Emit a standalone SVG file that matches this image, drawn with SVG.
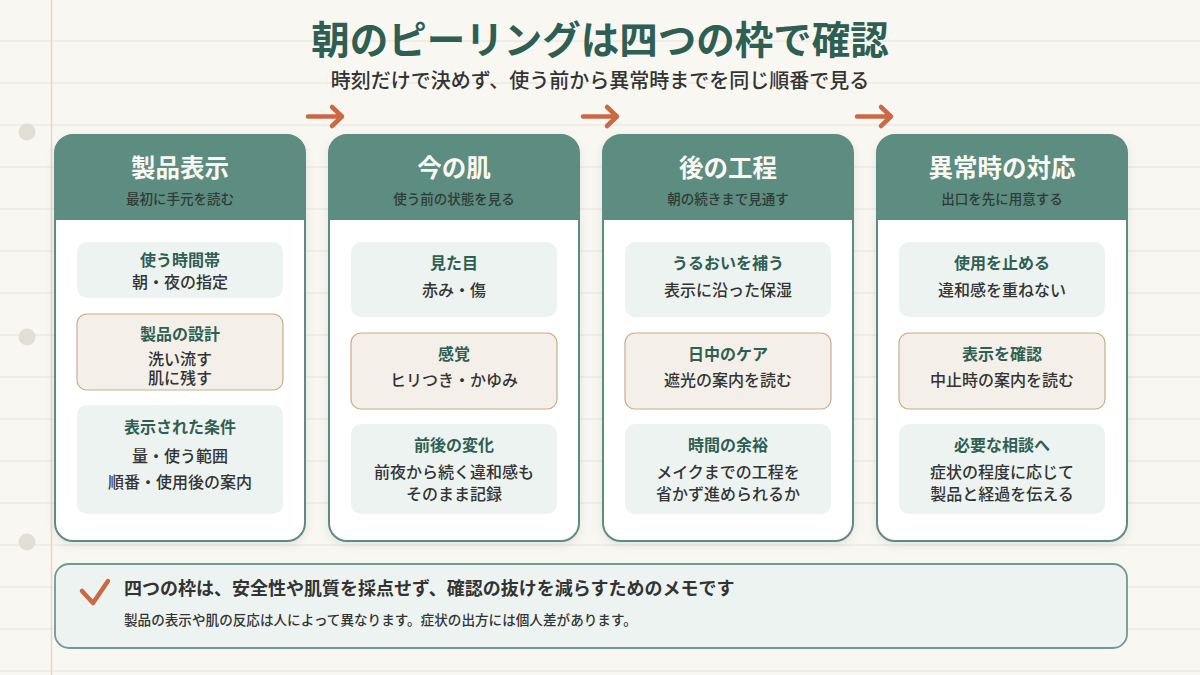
<svg xmlns="http://www.w3.org/2000/svg" width="1200" height="675" viewBox="0 0 1200 675">
<style>
text{font-family:"Noto Sans CJK JP","Noto Sans",sans-serif;text-anchor:middle}
.title{font-size:38.5px;font-weight:700;fill:#2f5e52}
.sub{font-size:20px;font-weight:500;fill:#333}
.ht{font-size:24.5px;font-weight:700;fill:#fbf8f1}
.hs{font-size:13.5px;font-weight:500;fill:#2e3b37}
.lb{font-size:16px;font-weight:700;fill:#2f5e52}
.tx{font-size:16px;font-weight:500;fill:#333}
.card{fill:#fff;stroke:#5d8c80;stroke-width:2}
.head{fill:#5d8c80}
.bx{fill:#edf3f1}
.bm{fill:#f4f0e9;stroke:#c9ad8a;stroke-width:1.2}
.arr{fill:none;stroke:#c96a45;stroke-width:4.5;stroke-linecap:round;stroke-linejoin:round}
.rule{stroke:#ede9e2;stroke-width:1.5}
</style>
<defs>
<filter id="sh" x="-10%" y="-10%" width="120%" height="120%">
<feDropShadow dx="0" dy="3" stdDeviation="5" flood-color="#000" flood-opacity="0.08"/>
</filter>
</defs>
<rect width="1200" height="675" fill="#f9f7f2"/>
<g id="paper">
<path class="rule" d="M0 41H1200M0 83H1200M0 125H1200M0 167H1200M0 209H1200M0 251H1200M0 293H1200M0 335H1200M0 377H1200M0 419H1200M0 461H1200M0 503H1200M0 545H1200M0 587H1200M0 629H1200M0 671H1200"/>
<line x1="51.5" y1="0" x2="51.5" y2="675" stroke="#efd3c8" stroke-width="1.5"/>
<ellipse cx="27" cy="132" rx="8.5" ry="8.5" fill="#e1ded5"/>
<ellipse cx="27" cy="337" rx="8.5" ry="8.5" fill="#e1ded5"/>
<ellipse cx="27" cy="542" rx="8.5" ry="8.5" fill="#e1ded5"/>
</g>
<g id="header">
<text class="title" x="600" y="54">朝のピーリングは四つの枠で確認</text>
<text class="sub" x="600" y="88">時刻だけで決めず、使う前から異常時までを同じ順番で見る</text>
</g>
<g id="connectors">
<path class="arr" d="M308 116.5H342M332 107L342 116.5L332 126"/>
<path class="arr" d="M583 116.5H617M607 107L617 116.5L607 126"/>
<path class="arr" d="M857 116.5H891M881 107L891 116.5L881 126"/>
</g>
<g id="card1">
<rect class="card" x="55" y="135" width="250" height="406" rx="18" filter="url(#sh)"/>
<path class="head" d="M55 220V153A18 18 0 0 1 73 135H287A18 18 0 0 1 305 153V220Z"/>
<text class="ht" x="180" y="177">製品表示</text>
<text class="hs" x="180" y="204">最初に手元を読む</text>
<rect class="bx" x="77" y="242" width="206" height="56" rx="10"/>
<text class="lb" x="180" y="265.5">使う時間帯</text>
<text class="tx" x="180" y="287.5">朝・夜の指定</text>
<rect class="bm" x="77" y="314" width="206" height="76" rx="10"/>
<text class="lb" x="180" y="339.5">製品の設計</text>
<text class="tx" x="180" y="365">洗い流す</text>
<text class="tx" x="180" y="383.5">肌に残す</text>
<rect class="bx" x="77" y="405" width="206" height="109" rx="10"/>
<text class="lb" x="180" y="432.5">表示された条件</text>
<text class="tx" x="180" y="461.5">量・使う範囲</text>
<text class="tx" x="180" y="487.5">順番・使用後の案内</text>
</g>
<g id="card2">
<rect class="card" x="329" y="135" width="250" height="406" rx="18" filter="url(#sh)"/>
<path class="head" d="M329 220V153A18 18 0 0 1 347 135H561A18 18 0 0 1 579 153V220Z"/>
<text class="ht" x="454" y="177">今の肌</text>
<text class="hs" x="454" y="204">使う前の状態を見る</text>
<rect class="bx" x="351" y="242" width="206" height="75" rx="10"/>
<text class="lb" x="454" y="268.5">見た目</text>
<text class="tx" x="454" y="295.5">赤み・傷</text>
<rect class="bm" x="351" y="333" width="206" height="76" rx="10"/>
<text class="lb" x="454" y="359.5">感覚</text>
<text class="tx" x="454" y="385.5">ヒリつき・かゆみ</text>
<rect class="bx" x="351" y="424" width="206" height="90" rx="10"/>
<text class="lb" x="454" y="450.5">前後の変化</text>
<text class="tx" x="454" y="477.5">前夜から続く違和感も</text>
<text class="tx" x="454" y="499.5">そのまま記録</text>
</g>
<g id="card3">
<rect class="card" x="603" y="135" width="250" height="406" rx="18" filter="url(#sh)"/>
<path class="head" d="M603 220V153A18 18 0 0 1 621 135H835A18 18 0 0 1 853 153V220Z"/>
<text class="ht" x="728" y="177">後の工程</text>
<text class="hs" x="728" y="204">朝の続きまで見通す</text>
<rect class="bx" x="625" y="242" width="206" height="75" rx="10"/>
<text class="lb" x="728" y="268.5">うるおいを補う</text>
<text class="tx" x="728" y="295.5">表示に沿った保湿</text>
<rect class="bm" x="625" y="333" width="206" height="76" rx="10"/>
<text class="lb" x="728" y="359.5">日中のケア</text>
<text class="tx" x="728" y="385.5">遮光の案内を読む</text>
<rect class="bx" x="625" y="424" width="206" height="90" rx="10"/>
<text class="lb" x="728" y="450.5">時間の余裕</text>
<text class="tx" x="728" y="477.5">メイクまでの工程を</text>
<text class="tx" x="728" y="499.5">省かず進められるか</text>
</g>
<g id="card4">
<rect class="card" x="877" y="135" width="250" height="406" rx="18" filter="url(#sh)"/>
<path class="head" d="M877 220V153A18 18 0 0 1 895 135H1109A18 18 0 0 1 1127 153V220Z"/>
<text class="ht" x="1002" y="177">異常時の対応</text>
<text class="hs" x="1002" y="204">出口を先に用意する</text>
<rect class="bx" x="899" y="242" width="206" height="75" rx="10"/>
<text class="lb" x="1002" y="268.5">使用を止める</text>
<text class="tx" x="1002" y="295.5">違和感を重ねない</text>
<rect class="bm" x="899" y="333" width="206" height="76" rx="10"/>
<text class="lb" x="1002" y="359.5">表示を確認</text>
<text class="tx" x="1002" y="385.5">中止時の案内を読む</text>
<rect class="bx" x="899" y="424" width="206" height="90" rx="10"/>
<text class="lb" x="1002" y="450.5">必要な相談へ</text>
<text class="tx" x="1002" y="477.5">症状の程度に応じて</text>
<text class="tx" x="1002" y="499.5">製品と経過を伝える</text>
</g>
<g id="note">
<rect x="55" y="564" width="1072" height="84" rx="14" fill="#edf3f1" stroke="#6e9c91" stroke-width="1.8"/>
<path d="M82 591L93 603L108 581" fill="none" stroke="#c96a45" stroke-width="4.5" stroke-linecap="round" stroke-linejoin="round"/>
<text x="124" y="595" style="text-anchor:start;font-size:18px;font-weight:700;fill:#333">四つの枠は、安全性や肌質を採点せず、確認の抜けを減らすためのメモです</text>
<text x="124" y="625" style="text-anchor:start;font-size:13.6px;font-weight:500;fill:#333">製品の表示や肌の反応は人によって異なります。症状の出方には個人差があります。</text>
</g>
</svg>
